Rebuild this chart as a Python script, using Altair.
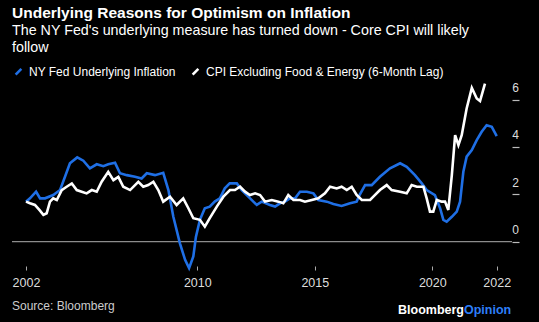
import altair as alt
import pandas as pd

# NY Fed Underlying Inflation (decimal year, %)
fed_year = [2002.71, 2002.88, 2003.14, 2003.31, 2003.52, 2003.87, 2004.16, 2004.37, 2004.58, 2004.89,
            2005.15, 2005.43, 2005.72, 2006.00, 2006.21, 2006.50, 2006.71, 2007.00, 2007.35, 2007.63,
            2007.85, 2008.20, 2008.55, 2008.77, 2008.98, 2009.26, 2009.48, 2009.65, 2009.83, 2009.94,
            2010.11, 2010.32, 2010.53, 2010.74, 2010.96, 2011.17, 2011.38, 2011.68, 2011.89, 2012.17,
            2012.53, 2012.74, 2013.09, 2013.31, 2013.52, 2013.73, 2013.94, 2014.16, 2014.37, 2014.66,
            2014.94, 2015.15, 2015.51, 2015.79, 2016.14, 2016.50, 2016.78, 2016.92, 2017.14, 2017.42,
            2017.77, 2018.20, 2018.63, 2018.91, 2019.26, 2019.55, 2019.76, 2020.11, 2020.33, 2020.47,
            2020.61, 2020.83, 2021.04, 2021.18, 2021.32, 2021.46, 2021.68, 2021.89, 2022.10, 2022.31,
            2022.53, 2022.74]
fed_val = [1.69, 1.83, 2.11, 1.83, 1.83, 1.97, 2.18, 2.74, 3.31, 3.56,
           3.42, 3.10, 3.27, 3.19, 3.27, 3.33, 2.89, 2.81, 2.74, 2.67,
           2.89, 2.81, 2.91, 2.18, 1.05, -0.07, -0.77, -1.12, -0.63, 0.20,
           0.92, 1.41, 1.48, 1.69, 1.83, 2.25, 2.46, 2.46, 2.18, 1.90,
           1.55, 1.69, 1.55, 1.48, 1.62, 1.69, 1.83, 1.83, 2.11, 2.11,
           2.04, 1.76, 1.69, 1.59, 1.51, 1.62, 1.69, 2.00, 2.39, 2.39,
           2.74, 3.10, 3.31, 3.16, 2.81, 2.46, 2.18, 1.97, 1.41, 0.92,
           0.84, 1.05, 1.27, 1.69, 2.95, 3.59, 3.87, 4.29, 4.64, 4.92,
           4.85, 4.46]

# CPI excluding food & energy, 6-month lag (decimal year, %)
cpi_year = [2002.71, 2002.88, 2003.09, 2003.28, 2003.45, 2003.59, 2003.73, 2003.87, 2004.02, 2004.23,
            2004.44, 2004.66, 2004.87, 2005.08, 2005.29, 2005.51, 2005.72, 2005.93, 2006.21, 2006.43,
            2006.64, 2006.85, 2007.14, 2007.49, 2007.70, 2007.91, 2008.13, 2008.34, 2008.55, 2008.84,
            2009.12, 2009.40, 2009.62, 2009.83, 2010.11, 2010.32, 2010.53, 2010.83, 2011.11, 2011.39,
            2011.60, 2011.82, 2012.03, 2012.24, 2012.46, 2012.67, 2012.88, 2013.17, 2013.45, 2013.66,
            2013.87, 2014.09, 2014.37, 2014.58, 2014.87, 2015.15, 2015.43, 2015.65, 2015.93, 2016.14,
            2016.36, 2016.57, 2016.78, 2017.00, 2017.35, 2017.49, 2017.77, 2018.06, 2018.27, 2018.63,
            2018.91, 2019.12, 2019.34, 2019.62, 2019.76, 2019.90, 2020.04, 2020.19, 2020.40, 2020.54,
            2020.68, 2020.83, 2020.97, 2021.11, 2021.25, 2021.46, 2021.68, 2021.89, 2022.03, 2022.24]
cpi_val = [1.69, 1.62, 1.55, 1.34, 1.13, 1.20, 1.69, 1.83, 1.76, 2.18,
           2.32, 2.46, 2.18, 2.11, 2.04, 2.18, 2.11, 2.53, 2.95, 2.60,
           2.74, 2.32, 2.18, 2.53, 2.32, 2.39, 2.53, 2.18, 1.69, 1.90,
           1.55, 1.83, 1.41, 0.99, 0.92, 0.63, 0.99, 1.48, 1.90, 2.18,
           2.18, 2.32, 2.11, 1.97, 2.04, 1.97, 1.69, 1.76, 1.69, 1.62,
           1.97, 1.76, 1.76, 1.69, 1.76, 1.83, 2.04, 2.32, 2.25, 2.32,
           2.18, 2.32, 1.97, 1.76, 1.76, 1.90, 2.18, 2.39, 2.18, 2.11,
           2.04, 2.39, 2.32, 2.32, 1.83, 1.27, 1.27, 1.76, 1.69, 1.69,
           1.34, 2.81, 4.50, 4.08, 4.50, 5.63, 6.50, 6.05, 5.94, 6.68]

series_names = ["NY Fed Underlying Inflation", "CPI Excluding Food & Energy (6-Month Lag)"]
series_colors = ["#1f6fe5", "#ffffff"]

x_tick_values = [2002.71, 2010, 2015, 2020, 2022.74]
x_tick_labels = ["2002", "2010", "2015", "2020", "2022"]
y_tick_values = [0, 2, 4, 6]

FONT = "Liberation Sans"

df = pd.concat([
    pd.DataFrame({"year": fed_year, "value": fed_val, "series": series_names[0], "order": 0}),
    pd.DataFrame({"year": cpi_year, "value": cpi_val, "series": series_names[1], "order": 1}),
])

label_expr = " : ".join(
    f"datum.value < {v + 0.5} ? '{l}'" for v, l in zip(x_tick_values[:-1], x_tick_labels[:-1])
) + f" : '{x_tick_labels[-1]}'"

y_scale = alt.Scale(domain=[-1.03, 7.0], nice=False, zero=False)
y_axis = alt.Axis(orient="right", values=y_tick_values, title=None, domain=False,
                  grid=False, tickSize=7, tickColor="#bbbbbb", tickWidth=1.2,
                  labelColor="#dddddd", labelFontSize=12, labelFont=FONT,
                  labelAlign="center", labelBaseline="middle", labelPadding=-4,
                  labelOffset=-12)

x_enc = alt.X("year:Q", scale=alt.Scale(domain=[2002.115, 2023.39], nice=False, zero=False),
              axis=alt.Axis(values=x_tick_values, labelExpr=label_expr, title=None, domain=False,
                            grid=False, ticks=True, tickSize=4, tickColor="#aaaaaa", tickWidth=1,
                            labelColor="#dddddd", labelFontSize=12.5, labelPadding=6,
                            labelFont=FONT, labelFlush=False))

zero = alt.Chart(pd.DataFrame({"z": [0]})).mark_rule(color="#8c8c8c", strokeWidth=1.3).encode(
    y=alt.Y("z:Q", scale=y_scale, axis=y_axis)
)

lines = alt.Chart(df).mark_line(strokeWidth=2.6, clip=False).encode(
    x=x_enc,
    y=alt.Y("value:Q", scale=y_scale, axis=y_axis),
    color=alt.Color("series:N",
                    scale=alt.Scale(domain=series_names, range=series_colors),
                    legend=alt.Legend(title=None, orient="none", legendX=0, legendY=-11,
                                      direction="horizontal", symbolType="M-0.6,0.6L0.6,-0.6",
                                      symbolSize=90, symbolStrokeWidth=2.6, labelColor="#ffffff",
                                      labelFontSize=12, labelFont=FONT, columnPadding=11,
                                      labelOffset=4, padding=0, labelLimit=400)),
    order="order:Q",
    detail="series:N",
)

src = alt.Chart(pd.DataFrame({"t": ["Source: Bloomberg"]})).mark_text(
    align="left", baseline="middle", color="#cccccc", fontSize=12, font=FONT
).encode(x=alt.value(0), y=alt.value(230), text="t:N")

logo1 = alt.Chart(pd.DataFrame({"t": ["Bloomberg"]})).mark_text(
    align="right", baseline="middle", color="#ffffff", fontSize=12.5, fontWeight="bold", font=FONT
).encode(x=alt.value(452), y=alt.value(234), text="t:N")
logo2 = alt.Chart(pd.DataFrame({"t": ["Opinion"]})).mark_text(
    align="left", baseline="middle", color="#2d7ff9", fontSize=12.5, fontWeight="bold", font=FONT
).encode(x=alt.value(452), y=alt.value(234), text="t:N")

chart = alt.layer(zero, lines, src, logo1, logo2).resolve_scale(y="shared").properties(
    width=500, height=190,
    background="#000000",
    padding={"left": 12, "top": 76, "right": 27, "bottom": 56},
    autosize=alt.AutoSizeParams(type="none"),
    title=alt.TitleParams(
        text="Underlying Reasons for Optimism on Inflation",
        subtitle=["The NY Fed's underlying measure has turned down - Core CPI will likely", "follow"],
        anchor="start", frame="group", font=FONT, fontSize=15.5, fontWeight="bold", color="#ffffff",
        subtitleFont=FONT, subtitleFontSize=14.3, subtitleColor="#ffffff", subtitleLineHeight=16.5,
        subtitlePadding=3, offset=0, dy=-10,
    ),
).configure(font=FONT).configure_view(strokeWidth=0, stroke="transparent")

chart.save("out.html", embed_options={"renderer": "svg", "actions": False})
